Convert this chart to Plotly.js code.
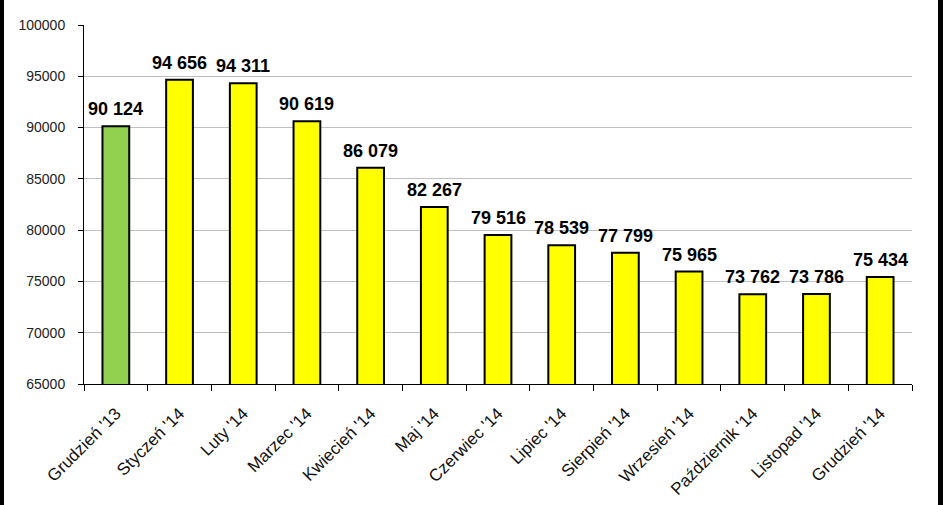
<!DOCTYPE html>
<html>
<head>
<meta charset="utf-8">
<script src="https://cdn.plot.ly/plotly-3.0.1.min.js"></script>
<style>
  html, body { margin: 0; padding: 0; background: #fff; }
  #wrap { position: relative; width: 943px; height: 505px; }
  #chart { width: 943px; height: 505px; }
  #frame { position: absolute; left: 0; top: 0; width: 943px; height: 505px; box-sizing: border-box;
           border-left: 4px solid #000; border-right: 5px solid #000; pointer-events: none; }
</style>
</head>
<body>
<div id="wrap">
  <div id="chart"></div>
  <div id="frame"></div>
</div>
<script>
const categories = ["Grudzień '13", "Styczeń '14", "Luty '14", "Marzec '14", "Kwiecień '14", "Maj '14",
  "Czerwiec '14", "Lipiec '14", "Sierpień '14", "Wrzesień '14", "Październik '14", "Listopad '14", "Grudzień '14"];
const values = [90124, 94656, 94311, 90619, 86079, 82267, 79516, 78539, 77799, 75965, 73762, 73786, 75434];
const barColors = ["#92D050", "#FFFF00", "#FFFF00", "#FFFF00", "#FFFF00", "#FFFF00", "#FFFF00",
  "#FFFF00", "#FFFF00", "#FFFF00", "#FFFF00", "#FFFF00", "#FFFF00"];
const yTicks = [65000, 70000, 75000, 80000, 85000, 90000, 95000, 100000];

function fmt(v) {
  return String(v).replace(/\B(?=(\d{3})+(?!\d))/g, " ");
}

const trace = {
  type: "bar",
  x: categories,
  y: values,
  width: 0.42,
  marker: { color: barColors, line: { color: "#000", width: 2 } },
  hoverinfo: "none"
};

const annotations = categories.map((c, i) => ({
  x: c, y: values[i], xref: "x", yref: "y",
  text: fmt(values[i]), showarrow: false,
  yanchor: "bottom", yshift: 5,
  font: { family: "Liberation Sans, Arial, sans-serif", size: 18, color: "#000", weight: "bold" }
}));

const layout = {
  width: 943, height: 505,
  margin: { l: 84, r: 31, t: 25, b: 121 },
  paper_bgcolor: "#fff", plot_bgcolor: "#fff",
  showlegend: false,
  font: { family: "Liberation Sans, Arial, sans-serif", color: "#000" },
  xaxis: {
    type: "category",
    showline: true, linecolor: "#000", linewidth: 1,
    ticks: "outside", tickson: "boundaries", ticklen: 6, tickcolor: "#000",
    tickangle: -45,
    ticklabelstandoff: 12,
    tickfont: { family: "Liberation Sans, Arial, sans-serif", size: 17, color: "#111" },
    showgrid: false, zeroline: false
  },
  yaxis: {
    range: [65000, 100000],
    tickvals: yTicks,
    ticktext: yTicks.map(String),
    showline: true, linecolor: "#000", linewidth: 1,
    ticks: "outside", ticklen: 5, tickcolor: "#000",
    ticklabelstandoff: 10,
    tickfont: { family: "Liberation Sans, Arial, sans-serif", size: 14, color: "#222" },
    showgrid: true, gridcolor: "#c0c0c0", gridwidth: 1,
    zeroline: false
  },
  annotations: annotations
};

Plotly.newPlot("chart", [trace], layout, { displayModeBar: false, staticPlot: true });
</script>
</body>
</html>
